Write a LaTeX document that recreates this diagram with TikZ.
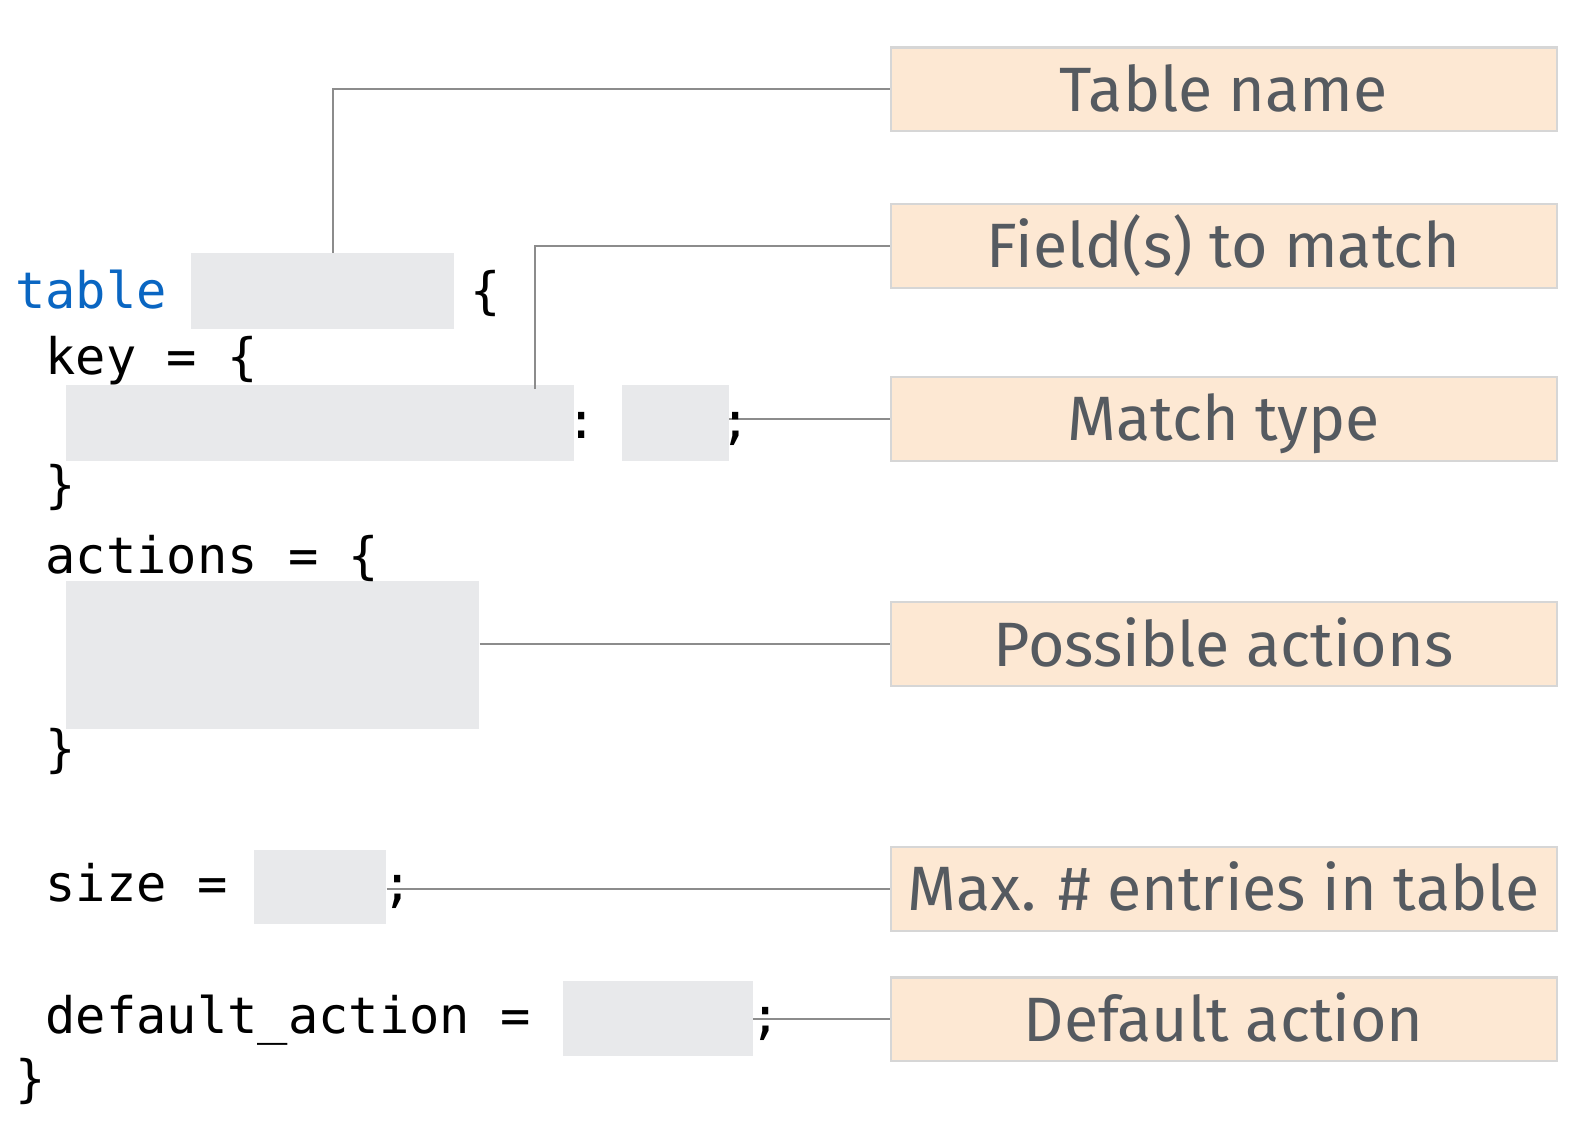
\documentclass[tikz,border=0pt]{standalone}
\usepackage{fontspec}
\setmainfont{Fira Sans}
\newfontfamily\codefont{DejaVu Sans Mono}
\definecolor{lblfill}{HTML}{FDE8D3}
\definecolor{lbldraw}{HTML}{D6D6D6}
\definecolor{lbltext}{HTML}{555A60}
\definecolor{slot}{HTML}{E8E9EB}
\definecolor{conncol}{HTML}{8C8C8C}
\definecolor{kwblue}{HTML}{0A66C2}
\tikzset{
  lbl/.style={draw=lbldraw, line width=2pt, fill=lblfill, text=lbltext, inner sep=0pt,
    minimum width=659pt, minimum height=83pt, anchor=north west,
    font=\fontsize{62}{70}\selectfont, text height=43pt, text depth=0pt},
  slotbox/.style={fill=slot, inner sep=0pt, anchor=north west},
  code/.style={inner sep=0pt, anchor=base west, font=\codefont\fontsize{49.8}{56}\selectfont, text=black},
  conn/.style={draw=conncol, line width=2pt},
}
\begin{document}
\begin{tikzpicture}[x=1pt,y=-1pt]
\useasboundingbox (0,0) rectangle (1568,1108);
% label boxes
\node[lbl] (l1) at (880,46) {Table name};
\node[lbl] (l2) at (880,201) {Field(s) to match};
\node[lbl] (l3) at (880,372) {Match type};
\node[lbl] (l4) at (880,595) {Possible actions};
\node[lbl] (l5) at (880,837) {Max. \# entries in table};
\node[lbl] (l6) at (880,966) {Default action};
% slots
\node[slotbox, minimum width=260pt, minimum height=75pt] (s1) at (189,250) {};
\node[slotbox, minimum width=503pt, minimum height=75pt] (s2) at (65,381) {};
\node[slotbox, minimum width=106pt, minimum height=75pt] (s3) at (615,381) {};
\node[slotbox, minimum width=409pt, minimum height=146pt] (s4) at (65,575) {};
\node[slotbox, minimum width=131pt, minimum height=73pt] (s5) at (251,841) {};
\node[slotbox, minimum width=188pt, minimum height=74pt] (s6) at (557,970) {};
% connectors
\coordinate (c1) at (329,250);
\coordinate (c2) at (529,385);
\draw[conn] (c1) |- (l1.west);
\draw[conn] (c2) |- (l2.west);
\draw[conn] (s3.east |- l3.west) -- (l3.west);
\draw[conn] (s4.east |- l4.west) -- (l4.west);
\draw[conn] (s5.east |- l5.west) -- (l5.west);
\draw[conn] (s6.east |- l6.west) -- (l6.west);
% code
\node[code, text=kwblue] (t1) at (15,305) {table};
\node[code] (t2) at (465,305) {\{};
\node[code] (t3) at (45,370) {key = \{};
\node[code] (t4) at (560,434) {:};
\node[code] (t5) at (713,434) {;};
\node[code] (t6) at (45,497) {\}};
\node[code] (t7) at (45,567) {actions = \{};
\node[code] (t8) at (45,758) {\}};
\node[code] (t9) at (45,892) {size =};
\node[code] (t10) at (378,892) {;};
\node[code] (t11) at (45,1022) {default\_action =};
\node[code] (t12) at (742,1022) {;};
\node[code] (t13) at (15,1085) {\}};
\end{tikzpicture}
\end{document}
